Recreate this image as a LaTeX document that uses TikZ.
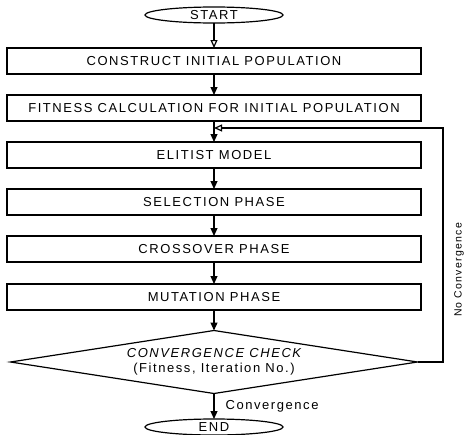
\documentclass[tikz,border=0pt]{standalone}
\usepackage{fontspec}
\newfontfamily\flowfont[LetterSpace=12]{Liberation Sans}
\usetikzlibrary{arrows.meta,positioning,shapes.geometric}

\begin{document}
\begin{tikzpicture}[
  x=1pt,
  y=-1pt,
  font=\flowfont\fontsize{13}{15}\selectfont,
  stepbox/.style={draw, line width=1.2pt, minimum width=414pt, minimum height=26pt, inner sep=0pt, outer sep=0pt},
  terminal/.style={draw, ellipse, line width=1.2pt, minimum width=138pt, minimum height=16pt, inner sep=0pt, outer sep=0pt},
  check/.style={draw, diamond, aspect=6.5, line width=1.2pt, minimum width=407pt, minimum height=63pt, inner sep=0pt, outer sep=0pt, align=center},
  flow/.style={line width=1.2pt, -{Triangle[length=8pt,width=7pt]}},
  hollow/.style={line width=1.2pt, -{Triangle[open,length=8pt,width=7pt]}},
  sidelabel/.style={rotate=90, font=\flowfont\fontsize{10.5}{13}\selectfont}
]
  \useasboundingbox (0,0) rectangle (466,434);

  \node[terminal] (start) at (214,15) {START};
  \node[stepbox] (init) at (214,61) {CONSTRUCT INITIAL POPULATION};
  \node[stepbox] (fit) at (214,108) {FITNESS CALCULATION FOR INITIAL POPULATION};
  \node[stepbox] (elite) at (214,155) {ELITIST MODEL};
  \node[stepbox] (select) at (214,202) {SELECTION PHASE};
  \node[stepbox] (cross) at (214,249) {CROSSOVER PHASE};
  \node[stepbox] (mutate) at (214,297) {MUTATION PHASE};
  \node[check] (conv) at (214,362) {{\itshape CONVERGENCE CHECK}\\(Fitness, Iteration No.)};
  \node[terminal] (stop) at (214,427) {END};

  \draw[hollow] (start) -- (init);
  \draw[flow] (init) -- (fit);
  \draw[flow] (fit) -- (elite);
  \draw[flow] (elite) -- (select);
  \draw[flow] (select) -- (cross);
  \draw[flow] (cross) -- (mutate);
  \draw[flow] (mutate) -- (conv);
  \draw[flow] (conv) -- node[right=11pt, inner sep=0pt] {Convergence} (stop);

  % loop back when not converged
  \coordinate (loop) at (443,128);
  \coordinate (join) at (214,128);
  \draw[hollow] (conv.east) -| (loop) -- (join);
  \node[sidelabel] (noconv) at (459,270) {No Convergence};
\end{tikzpicture}
\end{document}
